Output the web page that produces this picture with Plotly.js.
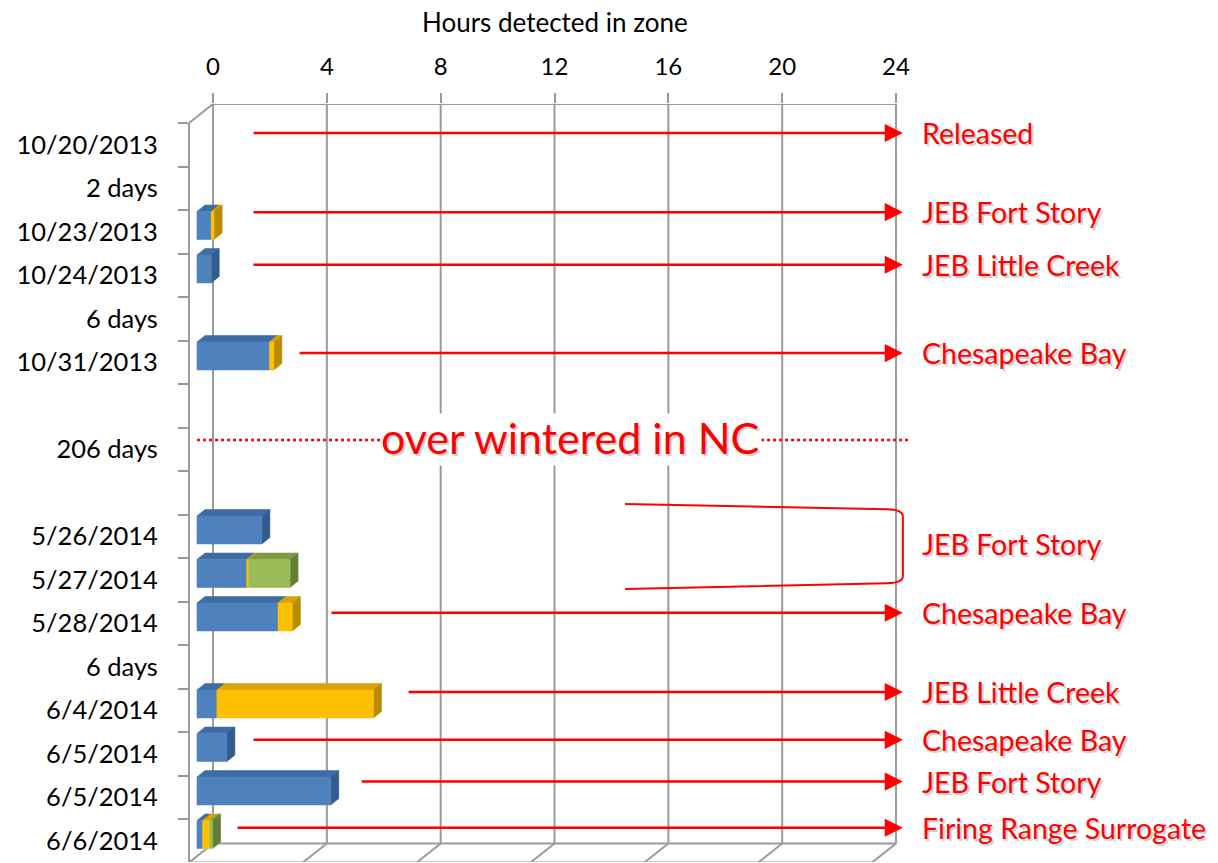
<!DOCTYPE html>
<html><head><meta charset="utf-8">
<script src="https://cdn.plot.ly/plotly-3.0.1.min.js"></script>
<style>html,body{margin:0;padding:0;background:#fff}#chart{width:1218px;height:863px}</style>
</head><body><div id="chart"></div>
<script>
// ---- data ----
const categories = ["10/20/2013","2 days","10/23/2013","10/24/2013","6 days","10/31/2013","","206 days","",
  "5/26/2014","5/27/2014","5/28/2014","6 days","6/4/2014","6/5/2014","6/5/2014","6/6/2014"];
const blueHours   = [0,0,0.5,0.5,0,2.55,0,0,0,2.28,1.75,2.85,0,0.7,1.05,4.7,0.2];
const yellowHours = [0,0,0.1,0,0,0.15,0,0,0,0,0.07,0.5,0,5.5,0,0,0.25];
const greenHours  = [0,0,0,0,0,0,0,0,0,0,1.45,0,0,0,0,0,0.1];
const hourTicks = [0,4,8,12,16,20,24];
const noteTexts  = ["Released","JEB Fort Story","JEB Little Creek","Chesapeake Bay","JEB Fort Story",
  "Chesapeake Bay","JEB Little Creek","Chesapeake Bay","JEB Fort Story","Firing Range Surrogate"];
const noteRows   = [-0.27,1.55,2.76,4.79,9.18,10.76,12.58,13.68,14.64,15.70];
const noteArrowFrom = [1.37,1.37,1.37,2.99,null,4.11,6.82,1.37,5.17,0.81];
const gapLabel = "over wintered in NC";

// ---- 3D geometry (style) ----
const PXH = 28.46, PXR = 43.5;
const DX = 24/PXH, DY = 19/PXR;   // depth of the box in data units
const HH = 0.322;                 // half bar height (rows)
const FONT = "Lato, 'Open Sans', sans-serif";
const nRows = categories.length;
const maxH = hourTicks[hourTicks.length-1];

function pt(v, r, f){ return [v - DX*(1-f), r - DY*f]; }

const series = [
  {vals: blueHours,   front:'#4F81BD', top:'#3E6CA4', side:'#335C8E'},
  {vals: yellowHours, front:'#FFC000', top:'#D9A400', side:'#B98C00'},
  {vals: greenHours,  front:'#9BBB59', top:'#7D9A44', side:'#657E36'}
];
const faceTraces = {};
series.forEach((s,si)=>{ faceTraces[si] = {front:{x:[],y:[]}, top:{x:[],y:[]}, side:{x:[],y:[]}}; });
function addPoly(obj, pts){ pts.forEach(p=>{obj.x.push(p[0]); obj.y.push(p[1]);}); obj.x.push(pts[0][0]); obj.y.push(pts[0][1]); obj.x.push(null); obj.y.push(null); }

for (let r=0; r<nRows; r++){
  let cum = 0, last = -1, lastB=0;
  series.forEach((s,si)=>{
    const v = s.vals[r];
    if (v>0){
      const a = cum, b = cum+v;
      const fa = pt(a,r,1/3), fb = pt(b,r,1/3), ba = pt(a,r,2/3), bb = pt(b,r,2/3);
      addPoly(faceTraces[si].top, [[fa[0],fa[1]-HH],[fb[0],fb[1]-HH],[bb[0],bb[1]-HH],[ba[0],ba[1]-HH]]);
      addPoly(faceTraces[si].front, [[fa[0],fa[1]-HH],[fb[0],fb[1]-HH],[fb[0],fb[1]+HH],[fa[0],fa[1]+HH]]);
      cum = b; last = si; lastB = b;
    }
  });
  if (last>=0){
    const fb = pt(lastB,r,1/3), bb = pt(lastB,r,2/3);
    addPoly(faceTraces[last].side, [[fb[0],fb[1]-HH],[bb[0],bb[1]-HH],[bb[0],bb[1]+HH],[fb[0],fb[1]+HH]]);
  }
}
const traces = [];
['top','side','front'].forEach(face=>{
  series.forEach((s,si)=>{
    const d = faceTraces[si][face];
    traces.push({type:'scatter', mode:'lines', x:d.x, y:d.y, fill:'toself', fillcolor:s[face],
      line:{width:0.6,color:s[face]}, hoverinfo:'skip', showlegend:false});
  });
});

// ---- box / grid shapes ----
const GRID = '#9A9A9A';
const shapes = [];
const topY = -0.5 - DY, botBackY = nRows - 0.5 - DY, botFrontY = nRows - 0.5;
function seg(x0,y0,x1,y1,extra){ shapes.push(Object.assign({type:'line',xref:'x',yref:'y',x0,y0,x1,y1,line:{color:GRID,width:2},layer:'below'},extra||{})); }
seg(0, topY, maxH, topY);
hourTicks.forEach(h=>{ seg(h, topY, h, botBackY); seg(h, botBackY, h-DX, botFrontY); });
seg(0, botBackY, maxH, botBackY);
seg(-DX, botFrontY, maxH-DX, botFrontY);
seg(-DX, -0.5, 0, topY);
shapes.push({type:'line', xref:'paper', yref:'y', x0:0, x1:0, y0:-0.5, y1:botFrontY, line:{color:GRID,width:2}, layer:'below'});

// dotted gap line & bracket
const gapRow = 6.79;
shapes.push({type:'line', xref:'x', yref:'y', x0:-0.56, x1:24.49, y0:gapRow, y1:gapRow, line:{color:'#FF0000', width:2.5, dash:'dot'}, layer:'above'});
shapes.push({type:'path', xref:'x', yref:'y', layer:'above',
  path:'M 14.48 8.26 L 23.7 8.38 Q 24.24 8.39 24.24 8.55 L 24.24 9.92 Q 24.24 10.07 23.7 10.08 L 14.48 10.21',
  line:{color:'#FF0000', width:2}});

// ---- annotations ----
const NOTE_SIZE = 28.5;
const annotations = [];
annotations.push({xref:'x', yref:'paper', x:maxH/2, y:1+(104-22)/758, text:'Hours detected in zone', showarrow:false,
  font:{family:FONT, size:26, color:'#000'}, xanchor:'center', yanchor:'middle'});
noteTexts.forEach((t,i)=>{
  const r = noteRows[i];
  if (noteArrowFrom[i] !== null){
    annotations.push({xref:'x', yref:'y', x:24.24, y:r, ax:noteArrowFrom[i], ay:r, axref:'x', ayref:'y',
      text:'', showarrow:true, arrowhead:2, arrowsize:1.45, arrowwidth:2.5, arrowcolor:'#FF0000', standoff:0, startstandoff:0});
  }
  annotations.push({xref:'x', yref:'y', x:24.83, y:r, text:t, showarrow:false, xanchor:'left', yanchor:'middle',
    xshift:2, yshift:-2, font:{family:FONT, size:NOTE_SIZE, color:'rgba(90,90,90,0.28)'}});
  annotations.push({xref:'x', yref:'y', x:24.83, y:r, text:t, showarrow:false, xanchor:'left', yanchor:'middle',
    font:{family:FONT, size:NOTE_SIZE, color:'#FF0000'}});
});
annotations.push({xref:'x', yref:'y', x:12.54, y:gapRow-0.05, text:gapLabel, showarrow:false, xanchor:'center', yanchor:'middle',
  xshift:2, yshift:-2, bgcolor:'#FFFFFF', borderpad:0, font:{family:FONT, size:43, color:'rgba(90,90,90,0.28)'}});
annotations.push({xref:'x', yref:'y', x:12.54, y:gapRow-0.05, text:gapLabel, showarrow:false, xanchor:'center', yanchor:'middle',
  font:{family:FONT, size:43, color:'#FF0000'}});

const rowIdx = categories.map((c,i)=>i);
const boundaries = []; for (let i=0;i<=nRows;i++) boundaries.push(i-0.5);

const layout = {
  width:1218, height:863, margin:{l:189, r:0, t:104, b:1},
  paper_bgcolor:'#FFFFFF', plot_bgcolor:'rgba(0,0,0,0)', showlegend:false,
  xaxis:{side:'top', range:[-DX, (1218-213)/PXH], tickmode:'array', tickvals:hourTicks, ticktext:hourTicks.map(String),
    ticks:'outside', ticklen:10, tickwidth:2, tickcolor:GRID, showgrid:false, zeroline:false, showline:false,
    tickfont:{family:FONT, size:24, color:'#000'}, ticklabelstandoff:8, fixedrange:true},
  yaxis:{range:[(862-144.75)/PXR, (104-144.75)/PXR], tickmode:'array', tickvals:rowIdx, ticktext:categories,
    ticks:'outside', ticklen:25, tickcolor:'rgba(0,0,0,0)', showgrid:false, zeroline:false, showline:false,
    tickfont:{family:FONT, size:25.5, color:'#000'},
    minor:{tickmode:'array', tickvals:boundaries, ticks:'outside', ticklen:10, tickwidth:2, tickcolor:GRID, showgrid:false},
    fixedrange:true},
  shapes, annotations
};
Plotly.newPlot('chart', traces, layout, {displayModeBar:false, staticPlot:true});
</script></body></html>
